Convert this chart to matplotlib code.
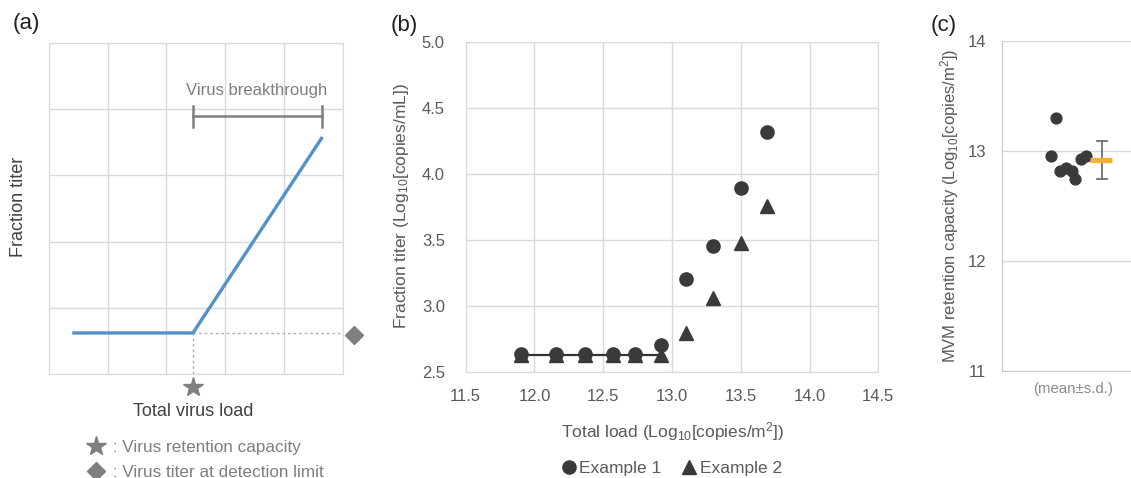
import matplotlib.pyplot as plt
import numpy as np
from matplotlib.lines import Line2D

plt.rcParams['font.family'] = ['Liberation Sans', 'DejaVu Sans']
plt.rcParams['mathtext.fontset'] = 'custom'
plt.rcParams['mathtext.rm'] = 'Liberation Sans'
plt.rcParams['mathtext.it'] = 'Liberation Sans:italic'

# (a) schematic breakthrough curve
a_x = [0.4, 2.45, 4.65]
a_y = [0.62, 0.62, 3.58]
a_bracket_x = [2.45, 4.65]
a_bracket_y = 3.89

# (b) fraction titer vs total load
b_load = [11.90, 12.16, 12.37, 12.57, 12.73, 12.92, 13.10, 13.30, 13.50, 13.69]
b_ex1 = [2.64, 2.64, 2.64, 2.64, 2.64, 2.71, 3.21, 3.46, 3.90, 4.32]
b_ex2 = [2.63, 2.63, 2.63, 2.63, 2.63, 2.63, 2.80, 3.06, 3.48, 3.76]
b_xticks = [11.5, 12.0, 12.5, 13.0, 13.5, 14.0, 14.5]
b_yticks = [2.5, 3.0, 3.5, 4.0, 4.5, 5.0]

# (c) MVM retention capacity
c_values = [13.30, 12.95, 12.82, 12.84, 12.82, 12.74, 12.93, 12.95]
c_jitter = [0.42, 0.38, 0.45, 0.50, 0.54, 0.57, 0.61, 0.65]

GRID = '#d9d9d9'
TICK = '#595959'
DARK = '#3a3a3a'
MID = '#7f7f7f'
BLUE = '#5590c8'
ORANGE = '#f4b030'

W, H = 1131, 478
fig = plt.figure(figsize=(W / 100, H / 100), dpi=100)


def px_axes(l, t, r, b):
    return fig.add_axes([l / W, 1 - b / H, (r - l) / W, (b - t) / H])


# ---------- (a) ----------
ax = px_axes(48.7, 43, 343, 374)
ax.set_xlim(0, 5)
ax.set_ylim(0, 5)
ax.set_xticks(range(6))
ax.set_yticks(range(6))
ax.set_xticklabels([])
ax.set_yticklabels([])
ax.tick_params(length=0)
ax.grid(True, color=GRID, lw=1)
for s in ax.spines.values():
    s.set_color(GRID)
ax.plot([a_x[1], 4.95], [a_y[1], a_y[1]], ls=(0, (2, 2)), color='#b0b0b0', lw=1)
ax.plot([a_x[1], a_x[1]], [0, a_y[1]], ls=(0, (2, 2)), color='#b0b0b0', lw=1)
ax.plot(a_x, a_y, color=BLUE, lw=2.4, solid_capstyle='butt')
ax.plot(a_bracket_x, [a_bracket_y] * 2, color=MID, lw=1.8)
for bx in a_bracket_x:
    ax.plot([bx, bx], [a_bracket_y - 0.16, a_bracket_y + 0.16], color=MID, lw=1.8)
ax.text(np.mean(a_bracket_x) - 0.02, 4.28, 'Virus breakthrough', ha='center',
        va='center', fontsize=12, color=MID)
ax.plot([a_x[1]], [-0.19], marker='*', ms=15, color=MID, clip_on=False)
ax.plot([5.19], [a_y[1] - 0.03], marker='D', ms=9, color=MID, clip_on=False)
ax.set_xlabel('Total virus load', fontsize=13, color='#404040', va='center')
ax.xaxis.set_label_coords(0.49, (374 - 412) / 331)
ax.set_ylabel('Fraction titer', fontsize=13, color='#404040', va='center')
ax.yaxis.set_label_coords(-0.101, 0.505)
handles = [Line2D([], [], ls='none', marker='*', ms=15, color=MID),
           Line2D([], [], ls='none', marker='D', ms=9, color=MID)]
fig.legend(handles, [' : Virus retention capacity', ' : Virus titer at detection limit'],
           loc='upper left', bbox_to_anchor=(87 / W, 1 - 440 / H), frameon=False,
           fontsize=12.3, labelcolor=MID, borderpad=0, borderaxespad=0,
           handlelength=1.05, handletextpad=0.2, labelspacing=0.6)
fig.text(13 / W, 1 - 23 / H, '(a)', fontsize=16, ha='left', va='center', color='#202020')

# ---------- (b) ----------
bx_ = px_axes(465.7, 42.3, 878.3, 372.3)
bx_.set_xlim(11.5, 14.5)
bx_.set_ylim(2.5, 5.0)
bx_.set_xticks(b_xticks)
bx_.set_yticks(b_yticks)
bx_.set_xticklabels([f'{v:.1f}' for v in b_xticks])
bx_.set_yticklabels([f'{v:.1f}' for v in b_yticks])
bx_.tick_params(length=0, labelsize=12, labelcolor=TICK)
bx_.tick_params(axis='y', pad=15)
bx_.tick_params(axis='x', pad=12)
bx_.grid(True, color=GRID, lw=1)
for s in bx_.spines.values():
    s.set_color(GRID)
bx_.plot(b_load[:6], b_ex2[:6], color='#333333', lw=1.6, zorder=3)
bx_.plot(b_load, b_ex2, ls='none', marker='^', ms=10, color=DARK, zorder=4,
         label='Example 2')
bx_.plot(b_load, b_ex1, ls='none', marker='o', ms=9.5, color=DARK, zorder=5,
         label='Example 1')
bx_.set_xlabel(r'Total load (Log$_{10}$[copies/m$^{2}$])', fontsize=12.5,
               color=TICK, va='center')
bx_.xaxis.set_label_coords(0.501, -0.181)
bx_.set_ylabel(r'Fraction titer (Log$_{10}$[copies/mL])', fontsize=12.5,
               color=TICK, va='center')
bx_.yaxis.set_label_coords(-0.155, 0.505)
h, l = bx_.get_legend_handles_labels()
fig.legend(h[::-1], l[::-1], loc='center', bbox_to_anchor=(672 / W, 1 - 468 / H),
           ncol=2, frameon=False, fontsize=12.5, labelcolor=TICK,
           handlelength=0.8, handletextpad=0.2, columnspacing=1.2)
fig.text(391 / W, 1 - 25 / H, '(b)', fontsize=16, ha='left', va='center', color='#202020')

# ---------- (c) ----------
cx = px_axes(1001.7, 40.7, 1131, 371)
cx.set_xlim(0, 1)
cx.set_ylim(11, 14)
cx.set_yticks([11, 12, 13, 14])
cx.yaxis.grid(True, color=GRID, lw=1)
cx.spines['top'].set_visible(False)
cx.spines['right'].set_visible(False)
cx.spines['left'].set_color('#c8c8c8')
cx.spines['bottom'].set_color('#c8c8c8')
cx.tick_params(length=0, labelsize=12, labelcolor=TICK)
cx.tick_params(axis='y', pad=11)
cx.set_xticks([0.553])
cx.set_xticklabels(['(mean±s.d.)'], fontsize=10.8, color='#8c8c8c')
cx.tick_params(axis='x', pad=8)
cx.plot(c_jitter, c_values, ls='none', marker='o', ms=7.8, color=DARK, zorder=4)
mean = np.mean(c_values)
sd = np.std(c_values, ddof=1)
cx.errorbar([0.773], [mean], yerr=[sd], color=TICK, lw=1.1, capsize=4,
            capthick=1.1, zorder=3)
cx.plot([0.683, 0.851], [mean, mean], color=ORANGE, lw=3.8, solid_capstyle='butt',
        zorder=5)
cx.set_ylabel(r'MVM retention capacity (Log$_{10}$[copies/m$^{2}$])', fontsize=12,
              color=TICK, va='center')
cx.yaxis.set_label_coords(-0.40, 0.5)
fig.text(931 / W, 1 - 25 / H, '(c)', fontsize=16, ha='left', va='center', color='#202020')

fig.savefig('out.png', dpi=100)
